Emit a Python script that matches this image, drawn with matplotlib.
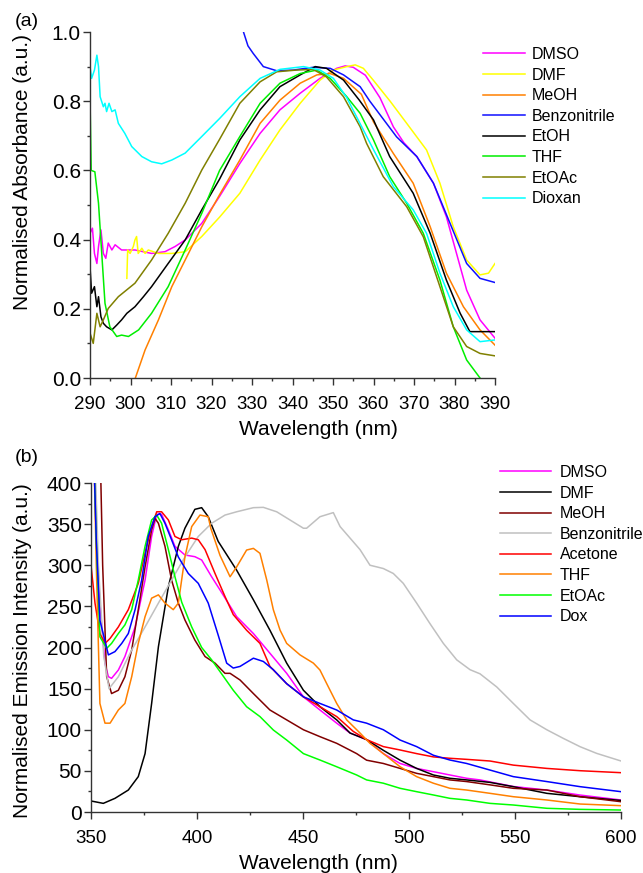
import numpy as np
import matplotlib
matplotlib.use('Agg')
import matplotlib.pyplot as plt
from matplotlib.ticker import MultipleLocator, FormatStrFormatter

plt.rcParams['font.family'] = ['Liberation Sans', 'DejaVu Sans']

# ---------------- (a) absorbance ----------------
dmso_a_x = [290, 290.6, 291.1, 291.7, 292.1, 292.7, 293.3, 293.9, 294.5, 295.4, 296.2, 297.8, 301.1, 305.2,
            308.5, 311, 313.5, 317.6, 322, 327, 332, 336.9, 341.9, 346.8, 350.9, 353, 355, 358, 361.6, 364.9,
            367.5, 370.7, 374.8, 378, 380.5, 383, 386.3, 390]
dmso_a_y = [.418, .433, .36, .331, .38, .428, .36, .346, .39, .37, .385, .37, .37, .36, .365, .38, .399, .447,
            .525, .62, .707, .775, .823, .866, .895, .902, .898, .875, .81, .726, .68, .64, .563, .466, .36,
            .254, .168, .115]

dmf_a_x = [299.1, 299.3, 299.9, 300.7, 301.1, 301.5, 301.9, 302.8, 303.6, 304.4, 306.9, 310.2, 313.5, 317.6,
           322, 327, 332, 336.9, 341.9, 346.8, 350.1, 353.4, 355.5, 357.5, 360, 364.1, 368.2, 373.1, 376.4,
           379.7, 383, 386.3, 388.4, 390]
dmf_a_y = [.288, .37, .36, .38, .399, .409, .36, .375, .36, .37, .36, .36, .365, .409, .465, .534, .63, .717,
           .794, .861, .89, .9, .905, .895, .86, .80, .736, .659, .563, .437, .341, .298, .303, .331]

meoh_a_x = [301.2, 303.6, 306.9, 310.2, 313.5, 317.6, 322, 327, 332, 336.9, 341.9, 346, 349.3, 352.6, 357,
            360, 364.9, 369.8, 374, 378, 382.2, 386.3, 390]
meoh_a_y = [0, .081, .168, .264, .341, .437, .53, .63, .736, .803, .852, .876, .88, .866, .82, .74, .649,
            .563, .437, .303, .206, .139, .095]

benz_a_x = [327.9, 329, 330.3, 332.8, 336.1, 340.2, 345.1, 349.3, 352.6, 356.7, 359.1, 365.7, 370.7, 374.8,
            378.9, 383, 386.3, 390]
benz_a_y = [1.0, .96, .938, .9, .888, .89, .898, .895, .876, .842, .80, .697, .64, .563, .447, .331, .288, .276]

etoh_a_x = [290, 290.4, 291.1, 291.7, 292.1, 292.7, 293.3, 294.1, 295.4, 296.6, 297.8, 299.1, 301.1, 303.2,
            305.2, 309.3, 313.5, 317.6, 322, 327, 332, 336.9, 341.9, 345.6, 348.4, 352.6, 356.5, 360, 364,
            369.8, 374, 378, 381.4, 383.8, 390]
etoh_a_y = [.322, .245, .264, .206, .235, .177, .158, .148, .139, .153, .168, .187, .206, .235, .264, .331,
            .399, .486, .575, .688, .775, .842, .876, .9, .895, .861, .803, .746, .64, .534, .418, .283, .187,
            .134, .134]

thf_a_x = [290, 290.3, 291.2, 292.1, 292.9, 293.7, 294.9, 296.6, 297.8, 299.5, 302, 305.2, 309.3, 313.5,
           317.6, 322, 327, 332, 336.9, 341.9, 346, 349.3, 353.4, 356.7, 360, 364, 368.2, 372.3, 376.4,
           379.7, 383, 386.3]
thf_a_y = [.81, .60, .596, .505, .36, .216, .148, .12, .124, .12, .139, .187, .264, .37, .476, .60, .698,
           .794, .852, .88, .89, .866, .813, .765, .688, .582, .505, .418, .283, .148, .052, 0]

etoac_a_x = [290, 290.8, 291.7, 292.5, 293.3, 294.5, 297, 301.1, 305.2, 309.3, 313.5, 317.6, 322, 327, 332,
             336.1, 341, 345.1, 348.4, 352.6, 356.7, 358.3, 362.4, 368.2, 372.3, 376.4, 379.7, 383, 386.3, 390]
etoac_a_y = [.13, .10, .187, .148, .168, .201, .235, .274, .341, .418, .505, .601, .69, .794, .856, .885,
             .89, .892, .87, .813, .726, .678, .582, .495, .408, .264, .148, .091, .071, .064]

diox_a_x = [290, 290.4, 291.1, 291.7, 292.1, 292.5, 293.3, 293.7, 294.1, 294.7, 295.4, 296.2, 297, 298.6,
            300.3, 302.8, 305.2, 307.7, 310.2, 313.5, 317.6, 322, 327, 332, 336.9, 342.7, 346.8, 350.1,
            353.4, 360, 364.9, 369.8, 373.1, 376.4, 379.7, 383, 386.3, 390]
diox_a_y = [.90, .866, .89, .933, .90, .813, .784, .794, .77, .794, .77, .775, .736, .707, .669, .64, .625,
            .619, .63, .65, .698, .75, .813, .866, .892, .90, .89, .866, .81, .66, .553, .486, .418, .303,
            .206, .139, .105, .11]

# ---------------- (b) emission ----------------
dmso_b_x = [351.5, 352.5, 354.2, 356.6, 358.2, 359.7, 362.9, 366, 370.8, 375.5, 378.6, 381, 383.3, 386.5,
            389.6, 394.3, 399, 402.2, 406.9, 410.85, 418.7, 426.6, 434.4, 442.3, 450.2, 458, 465.9, 472.2,
            480, 487.9, 495.8, 503.6, 511.5, 519.3, 527.2, 533.5, 549.2, 565, 580.7, 600]
dmso_b_y = [420, 330, 253.7, 180.7, 164.5, 162.5, 172.6, 189, 225, 282, 335, 362, 362, 343, 323, 312.5,
            310.4, 306.4, 286, 270, 237.5, 217, 193, 168.6, 140, 124, 108, 96, 88, 71, 59, 53, 49, 45, 41,
            39, 31, 26.7, 20.6, 14.6]

dmf_b_x = [350, 355.8, 361.3, 367.6, 372.3, 375.5, 378.6, 381.8, 386.5, 391.2, 394.3, 399, 402.2, 405.3,
           410, 418.7, 426.6, 434.4, 442.3, 450.2, 458, 465.9, 472.2, 480, 487.9, 495.8, 503.6, 511.5,
           519.3, 527.2, 538.2, 549.2, 565, 580.7, 600]
dmf_b_y = [13.4, 10.5, 16.6, 26.7, 43, 71, 132, 201, 274, 323, 345, 368, 370, 359, 329, 294, 258, 221,
           181, 148, 128, 112, 96, 88, 75, 63, 53, 45, 41, 39, 36, 30.8, 22.7, 18.6, 14]

meoh_b_x = [354.5, 355.5, 357.4, 359.7, 362.9, 366, 369.2, 372.3, 375.5, 378.6, 380.2, 381.8, 384.9, 388,
            391.2, 394.3, 399, 403.8, 408.5, 413.2, 415.6, 420.3, 426.6, 434.4, 442.3, 450.2, 458, 465.9,
            475.3, 480, 487.9, 495.8, 503.6, 511.5, 519.3, 527.2, 538.2, 549.2, 565, 580.7, 600]
meoh_b_y = [420, 300, 164.5, 144, 148, 164.5, 197, 246, 298, 343, 357, 351, 323, 282, 254, 233.5, 209,
            189, 181, 168.6, 168.6, 160.5, 144, 124, 112, 100, 91.6, 83.5, 71, 63, 59, 53, 47, 43, 39, 37,
            33, 28.8, 26.7, 18.6, 12.5]

benz_b_x = [352, 353.5, 356, 358.5, 362.9, 369.2, 375.5, 381.8, 388, 394.3, 400.6, 406.9, 413.2, 418.7,
            426.6, 431.3, 437.6, 443.9, 450.2, 451.7, 458, 464.3, 467.5, 472.2, 476.9, 481.6, 484.8, 487.9,
            492.6, 497.3, 503.6, 509.9, 516.2, 522.5, 528.8, 533.5, 541.4, 549.2, 557.1, 565, 572.8, 580.7,
            588.5, 600]
benz_b_y = [420, 300, 190, 150, 164.5, 197, 225, 254, 282, 310, 335, 351, 361, 365, 370, 370.4, 365, 355,
            345, 345, 359, 364, 347, 333, 319, 300, 298, 296, 290, 278, 254, 229, 205, 185, 173, 168, 152,
            132, 112, 100, 89.5, 79.4, 71.3, 62]

acet_b_x = [350, 351.9, 354.2, 356.6, 359, 362.9, 367.6, 372.3, 375.5, 378.6, 381, 383.3, 386.5, 389.6,
            392.8, 397.5, 400.6, 403.8, 408.5, 413.2, 417.1, 423.4, 429.7, 434.4, 442.3, 450.2, 458, 465.9,
            473.7, 480, 487.9, 495.8, 503.6, 511.5, 519.3, 527.2, 538.2, 549.2, 565, 580.7, 600]
acet_b_y = [300, 253.7, 217, 205, 211, 225, 246, 278, 315, 347, 365, 365, 355, 335, 331, 333, 331, 319,
            290, 262, 240, 221, 205, 177, 156, 140, 128, 116, 98, 88, 79.5, 75.4, 71, 67, 65.3, 64, 62, 57,
            53, 50.2, 47.8]

thf_b_x = [351.5, 352.5, 354.2, 356.6, 359, 362.9, 366, 369.2, 372.3, 375.5, 378.6, 381.8, 384.9, 388.8,
           391.2, 394.3, 397.5, 401.4, 405.3, 406.5, 410.85, 415.6, 418.7, 423.4, 426.6, 429.7, 432.9, 436,
           439.2, 442.3, 448.6, 454.9, 458, 461.2, 465.9, 470.6, 476.9, 481.6, 487.9, 495.8, 503.6, 511.5,
           519.3, 527.2, 538.2, 549.2, 565, 580.7, 600]
thf_b_y = [420, 300, 132, 108, 108, 124, 132, 164.5, 205, 237.5, 260, 264, 254, 246, 254, 310, 347, 361,
           359, 345, 312, 286, 298, 318.5, 320.5, 314.5, 282, 246, 221, 205, 191, 181, 172.6, 156, 132, 112,
           96, 83.5, 71, 55, 43, 35, 28.8, 26.7, 22.7, 18.6, 14.6, 9.7, 7.7]

etoac_b_x = [351.5, 352.5, 354.2, 357.4, 359.7, 362.9, 366, 369.2, 372.3, 375.5, 378.6, 381, 383.3, 386.5,
             389.6, 392.8, 397.5, 402.2, 406.9, 411.6, 417.1, 423.4, 429.7, 436, 442.3, 450.2, 458, 465.9,
             475.3, 480, 487.9, 495.8, 503.6, 511.5, 519.3, 527.2, 538.2, 549.2, 565, 580.7, 600]
etoac_b_y = [420, 330, 213, 199, 205, 217, 227.5, 246, 282, 323, 355, 361, 351, 319, 286, 255, 225, 200,
             185, 168, 148, 128, 116, 99.7, 87.5, 71, 63.2, 55, 45, 39, 35, 28.8, 24.7, 20.7, 16.6, 14.6,
             10.5, 8.5, 4.5, 3.2, 2.4]

dox_b_x = [351.5, 352.5, 354.2, 358.2, 361.3, 364.5, 367.6, 370.8, 373.9, 377, 380.2, 382.5, 384.9, 388,
           391.2, 395.9, 400.6, 405.3, 410, 414, 417.1, 420.3, 426.6, 431.3, 436, 442.3, 450.2, 458, 465.9,
           473.7, 480, 487.9, 495.8, 503.6, 511.5, 519.3, 527.2, 538.2, 549.2, 565, 580.7, 600]
dox_b_y = [420, 330, 233, 191, 195, 205, 217, 246, 282, 335, 359, 363, 351, 331, 310, 290, 278, 254, 215,
           181, 175, 177, 187, 183, 173, 156, 140, 132, 124, 112, 108, 100, 87.5, 79.5, 69, 63.2, 59, 51,
           43, 37, 30.8, 24.7]

series_a = [
    ('DMSO', dmso_a_x, dmso_a_y, '#ff00ff'),
    ('DMF', dmf_a_x, dmf_a_y, '#ffff00'),
    ('MeOH', meoh_a_x, meoh_a_y, '#ff8000'),
    ('Benzonitrile', benz_a_x, benz_a_y, '#1010ff'),
    ('EtOH', etoh_a_x, etoh_a_y, '#000000'),
    ('THF', thf_a_x, thf_a_y, '#00ee00'),
    ('EtOAc', etoac_a_x, etoac_a_y, '#808000'),
    ('Dioxan', diox_a_x, diox_a_y, '#00ffff'),
]
series_b = [
    ('DMSO', dmso_b_x, dmso_b_y, '#ff00ff'),
    ('DMF', dmf_b_x, dmf_b_y, '#000000'),
    ('MeOH', meoh_b_x, meoh_b_y, '#800000'),
    ('Benzonitrile', benz_b_x, benz_b_y, '#c0c0c0'),
    ('Acetone', acet_b_x, acet_b_y, '#ff0000'),
    ('THF', thf_b_x, thf_b_y, '#ff8000'),
    ('EtOAc', etoac_b_x, etoac_b_y, '#00ff00'),
    ('Dox', dox_b_x, dox_b_y, '#0000ff'),
]

fig = plt.figure(figsize=(6.43, 8.73), dpi=100)
ax1 = fig.add_axes([90 / 643, 1 - 378 / 873, 405 / 643, 346 / 873])
ax2 = fig.add_axes([91 / 643, 1 - 812 / 873, 530 / 643, 329 / 873])


def style(ax):
    for s in ['top', 'right']:
        ax.spines[s].set_visible(False)
    for s in ['left', 'bottom']:
        ax.spines[s].set_linewidth(1.0)
        ax.spines[s].set_color('#333333')
    ax.tick_params(which='major', direction='out', length=5, width=1.0, color='#333333')
    ax.tick_params(which='minor', direction='out', length=2.5, width=1.0, color='#333333')
    ax.tick_params(axis='x', labelsize=13.5, pad=8)
    ax.tick_params(axis='y', labelsize=15, pad=1.5)


for name, x, y, c in series_a:
    ax1.plot(x, y, color=c, lw=1.1, label=name)
ax1.set_xlim(290, 390)
ax1.set_ylim(0, 1.0)
ax1.xaxis.set_major_locator(MultipleLocator(10))
ax1.xaxis.set_minor_locator(MultipleLocator(5))
ax1.yaxis.set_major_locator(MultipleLocator(0.2))
ax1.yaxis.set_minor_locator(MultipleLocator(0.1))
ax1.yaxis.set_major_formatter(FormatStrFormatter('%.1f'))
style(ax1)
ax1.set_xlabel('Wavelength (nm)', fontsize=15)
ax1.set_ylabel('Normalised Absorbance (a.u.)', fontsize=15)
ax1.xaxis.set_label_coords(0.565, -0.12)
ax1.yaxis.set_label_coords(-0.143, 0.594)
ax1.legend(loc='upper left', bbox_to_anchor=(483 / 643, 1 - 47 / 873), bbox_transform=fig.transFigure,
           frameon=False, fontsize=11.5, handlelength=2.6, handletextpad=0.45, labelspacing=0.35,
           borderpad=0, borderaxespad=0)

for name, x, y, c in series_b:
    ax2.plot(x, y, color=c, lw=1.1, label=name)
ax2.set_xlim(350, 600)
ax2.set_ylim(0, 400)
ax2.xaxis.set_major_locator(MultipleLocator(50))
ax2.xaxis.set_minor_locator(MultipleLocator(25))
ax2.yaxis.set_major_locator(MultipleLocator(50))
ax2.yaxis.set_minor_locator(MultipleLocator(25))
style(ax2)
ax2.set_xlabel('Wavelength (nm)', fontsize=15)
ax2.set_ylabel('Normalised Emission Intensity (a.u.)', fontsize=15)
ax2.xaxis.set_label_coords(0.43, -0.127)
ax2.yaxis.set_label_coords(-0.111, 0.489)
ax2.legend(loc='upper left', bbox_to_anchor=(500 / 643, 1 - 465 / 873), bbox_transform=fig.transFigure,
           frameon=False, fontsize=11.5, handlelength=3.2, handletextpad=0.55, labelspacing=0.35,
           borderpad=0, borderaxespad=0)

fig.text(15 / 643, 1 - 22 / 873, '(a)', fontsize=14, va='center', ha='left')
fig.text(15 / 643, 1 - 457 / 873, '(b)', fontsize=14, va='center', ha='left')

fig.savefig('out.png', dpi=100)
